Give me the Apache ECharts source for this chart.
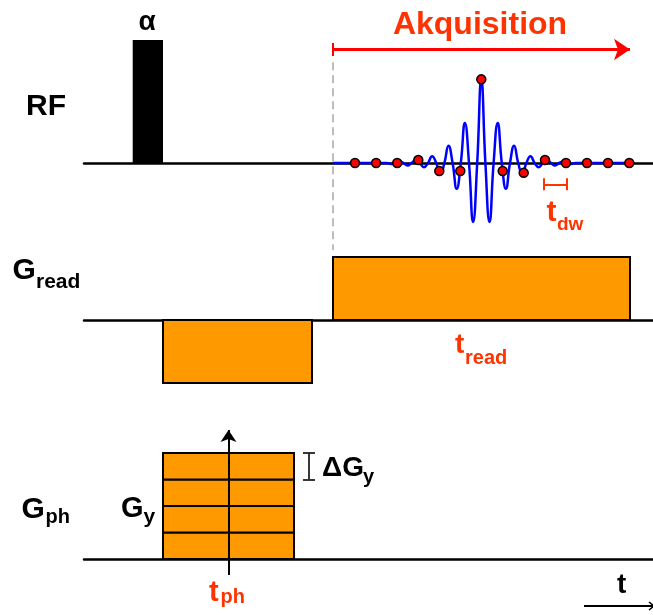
<!DOCTYPE html>
<html>
<head>
<meta charset="utf-8">
<script src="https://cdn.jsdelivr.net/npm/echarts@6/dist/echarts.min.js"></script>
<style>
  html, body { margin: 0; padding: 0; background: #fff; }
  #chart { width: 653px; height: 615px; }
</style>
</head>
<body>
<div id="chart"></div>
<script>
// ---- Gradient-echo sequence timing (arbitrary time units, 0 = start of baselines) ----
const T_END = 569;

// RF row: amplitudes in % of the excitation pulse
const rfPulse = [48.7, 79, 0, 100];            // [t start, t end, a low, a high]
const acquisition = [249, 546];                // ADC window
const acqArrowLevel = 92.3;
const acqTick = [87, 97.6];
const acqDashed = [82, -70.7];                 // vertical guide at acquisition start

// Echo signal: extrema and zero crossings of the ringing echo
const echoT = [249, 303.0, 307.1, 311.2, 315.3, 319.4, 323.5, 327.6, 331.7, 335.8,
               339.9, 344.0, 348.1, 352.2, 356.3, 360.4, 364.5, 368.6, 372.7, 376.8,
               380.9, 385.0, 389.1, 393.2, 397.3, 401.4, 405.5, 409.6, 413.7, 417.8,
               421.9, 426.0, 430.1, 434.2, 438.3, 442.4, 446.5, 450.6, 454.7, 458.8,
               462.9, 467.0, 471.1, 475.2, 479.3, 483.4, 487.5, 491.6, 548];
const echoA = [0, 0, -0.8, 0, 1.2, 0, -2, 0, 2.5, 0,
               -3.5, 0, 5.5, 0, -9, 0, 14, 0, -21, 0,
               32.5, 0, -48, 0, 68, 0, -48, 0, 32.5, 0,
               -21, 0, 14, 0, -9, 0, 5.5, 0, -3.5, 0,
               2.5, 0, -2, 0, 1.2, 0, -0.8, 0, 0];

// ADC sample points
const sampleT = [271, 292.1, 313.2, 334.3, 355.3, 376.3, 397.3, 418.7, 439.7, 461, 482, 503, 524, 545.3];
const sampleA = [0, 0, 0, 2.4, -6.5, -6.5, 68, -6.5, -8, 2.4, 0, 0, 0, 0];

// Dwell time marker
const dwell = [459.5, 482.5];
const dwellLevel = -17.3;
const dwellTick = 4.9;

// Readout gradient (relative amplitude)
const readPrephaser = [79, 228, -1, 0];
const readLobe = [249, 546, 0, 1];

// Phase-encoding gradient: table of steps (units of ΔGy)
const phaseT = [79, 210];
const phaseSteps = [0, 1, 2, 3, 4];
const phaseArrowT = 144.5;
const phaseArrow = [-0.6, 4.87];
const deltaMarkerT = 225;
const deltaMarkerHalf = 6;

const ORANGE = '#ff9900';
const RED_TEXT = '#ff3300';
const FONT = '"Liberation Sans", Arial, sans-serif';

function rectSeries(gridIdx, rows, fill, stroke, lw) {
  return {
    type: 'custom',
    coordinateSystem: 'cartesian2d',
    xAxisIndex: gridIdx, yAxisIndex: gridIdx,
    z: 3,
    data: rows,
    renderItem: function (params, api) {
      const p0 = api.coord([api.value(0), api.value(3)]);
      const p1 = api.coord([api.value(1), api.value(2)]);
      return {
        type: 'rect',
        shape: { x: p0[0], y: p0[1], width: p1[0] - p0[0], height: p1[1] - p0[1] },
        style: { fill: fill, stroke: stroke, lineWidth: lw }
      };
    }
  };
}

function segs(gridIdx, list, color, width, extra) {
  return Object.assign({
    type: 'lines',
    coordinateSystem: 'cartesian2d',
    xAxisIndex: gridIdx, yAxisIndex: gridIdx,
    clip: false,
    z: 5,
    symbol: ['none', 'none'],
    lineStyle: { color: color, width: width, opacity: 1 },
    data: list.map(c => ({ coords: c }))
  }, extra || {});
}

const phaseRows = [];
for (let i = 0; i < phaseSteps.length - 1; i++) {
  phaseRows.push([phaseT[0], phaseT[1], phaseSteps[i], phaseSteps[i + 1]]);
}

function xAxis(gridIdx) {
  return {
    gridIndex: gridIdx, type: 'value', min: 0, max: T_END,
    axisLine: { show: true, onZero: true, lineStyle: { color: '#000', width: 2.5 } },
    axisTick: { show: false }, axisLabel: { show: false }, splitLine: { show: false }
  };
}
function yAxis(gridIdx, min, max) {
  return {
    gridIndex: gridIdx, type: 'value', min: min, max: max,
    axisLine: { show: false }, axisTick: { show: false },
    axisLabel: { show: false }, splitLine: { show: false }
  };
}

function label(text, x, y, size, color, align) {
  return {
    type: 'text', x: x, y: y, z: 10,
    style: {
      text: text, fill: color || '#000',
      font: 'bold ' + size + 'px ' + FONT,
      textAlign: align || 'left', textVerticalAlign: 'middle'
    }
  };
}

const chart = echarts.init(document.getElementById('chart'), null, { renderer: 'canvas' });
chart.setOption({
  animation: false,
  backgroundColor: '#fff',
  grid: [
    { left: 84, right: 0, top: 40, height: 184.5 },
    { left: 84, right: 0, top: 257, height: 126 },
    { left: 84, right: 0, top: 426.5, height: 159 }
  ],
  xAxis: [xAxis(0), xAxis(1), xAxis(2)],
  yAxis: [yAxis(0, -50, 100), yAxis(1, -1, 1), yAxis(2, -1, 5)],
  series: [
    // RF excitation pulse
    rectSeries(0, [rfPulse], '#000', '#000', 0),
    // acquisition start guide
    segs(0, [[[acquisition[0], acqDashed[0]], [acquisition[0], acqDashed[1]]]], '#bdbdbd', 2,
         { lineStyle: { color: '#bdbdbd', width: 2, type: [8, 5], opacity: 1 }, z: 1 }),
    // acquisition arrow
    segs(0, [[[acquisition[0], acqArrowLevel], [acquisition[1], acqArrowLevel]]], '#ff0000', 3,
         { symbol: ['none', 'arrow'], symbolSize: [12, 16] }),
    segs(0, [[[acquisition[0], acqTick[0]], [acquisition[0], acqTick[1]]]], '#ff0000', 2),
    // echo
    {
      type: 'line', xAxisIndex: 0, yAxisIndex: 0, z: 4,
      data: echoT.map((t, i) => [t, echoA[i]]),
      smooth: 0.5, showSymbol: false, clip: false,
      lineStyle: { color: '#0000ff', width: 2.5 }
    },
    // ADC samples
    {
      type: 'scatter', xAxisIndex: 0, yAxisIndex: 0, z: 6,
      data: sampleT.map((t, i) => [t, sampleA[i]]),
      symbolSize: 9,
      itemStyle: { color: '#ff0000', borderColor: '#000', borderWidth: 1.5, opacity: 1 }
    },
    // dwell time bracket
    segs(0, [
      [[dwell[0], dwellLevel], [dwell[1], dwellLevel]],
      [[dwell[0], dwellLevel - dwellTick], [dwell[0], dwellLevel + dwellTick]],
      [[dwell[1], dwellLevel - dwellTick], [dwell[1], dwellLevel + dwellTick]]
    ], RED_TEXT, 2),
    // readout gradient
    rectSeries(1, [readPrephaser, readLobe], ORANGE, '#000', 2),
    // phase-encoding table
    rectSeries(2, phaseRows, ORANGE, '#000', 2),
    segs(2, [[[phaseArrowT, phaseArrow[0]], [phaseArrowT, phaseArrow[1]]]], '#000', 2,
         { symbol: ['none', 'arrow'], symbolSize: [9, 12] }),
    segs(2, [
      [[deltaMarkerT, phaseSteps[3]], [deltaMarkerT, phaseSteps[4]]],
      [[deltaMarkerT - deltaMarkerHalf, phaseSteps[3]], [deltaMarkerT + deltaMarkerHalf, phaseSteps[3]]],
      [[deltaMarkerT - deltaMarkerHalf, phaseSteps[4]], [deltaMarkerT + deltaMarkerHalf, phaseSteps[4]]]
    ], '#222', 1.8)
  ],
  graphic: [
    label('α', 147, 22.5, 28, '#000', 'center'),
    label('RF', 26, 106.5, 30),
    label('Akquisition', 480, 25.5, 32, RED_TEXT, 'center'),
    label('G', 12.5, 271, 30),
    label('read', 36, 282.6, 21),
    label('G', 21.5, 509.5, 30),
    label('ph', 45.5, 517.3, 20),
    label('G', 121, 509, 29),
    label('y', 143.5, 517, 21),
    label('ΔG', 322, 468.5, 28),
    label('y', 363, 477, 20),
    label('t', 455, 345.2, 28, RED_TEXT),
    label('read', 465, 358, 20, RED_TEXT),
    label('t', 546.5, 212.5, 30, RED_TEXT),
    label('dw', 557, 224.4, 19, RED_TEXT),
    label('t', 209, 593.2, 29, RED_TEXT),
    label('ph', 220.5, 597.8, 20, RED_TEXT),
    label('t', 617, 585.2, 28, '#000'),
    { type: 'line', z: 10, shape: { x1: 584, y1: 606, x2: 653, y2: 606 }, style: { stroke: '#000', lineWidth: 2 } },
    { type: 'polyline', z: 10, shape: { points: [[649, 602], [654, 606], [649, 610]] }, style: { stroke: '#000', lineWidth: 1.5, fill: null } }
  ]
});
</script>
</body>
</html>
